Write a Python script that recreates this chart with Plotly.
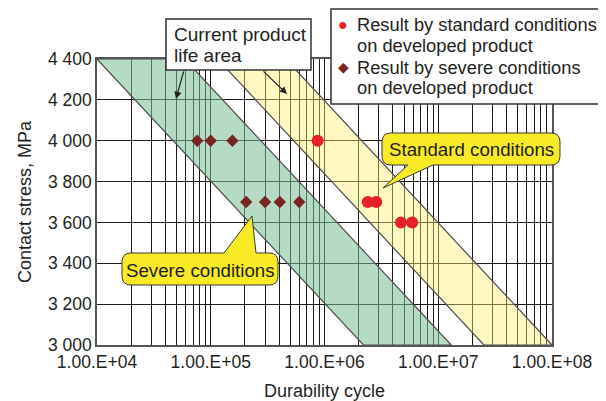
import plotly.graph_objects as go

# ---------------- data ----------------
std_cycles = [8.7e5, 2.4e6, 2.85e6, 4.7e6, 5.9e6]
std_stress = [4000, 3700, 3700, 3600, 3600]

sev_cycles = [7.6e4, 1.0e5, 1.55e5, 2.05e5, 3.0e5, 4.05e5, 6.0e5]
sev_stress = [4000, 4000, 4000, 3700, 3700, 3700, 3700]

band_stress = [4400, 3000]            # stress at top / bottom of the bands
current_lo = [1.0e4, 2.2e6]           # current product life area, short-life edge
current_hi = [5.9e4, 1.3e7]           # current product life area, long-life edge
developed_lo = [1.15e5, 2.52e7]       # developed product band, short-life edge
developed_hi = [4.56e5, 1.0e8]        # developed product band, long-life edge

y_ticks = [3000, 3200, 3400, 3600, 3800, 4000, 4200, 4400]
y_ticktext = ["3 000", "3 200", "3 400", "3 600", "3 800", "4 000", "4 200", "4 400"]
decades = [1e4, 1e5, 1e6, 1e7, 1e8]
decade_text = ["1.00.E+04", "1.00.E+05", "1.00.E+06", "1.00.E+07", "1.00.E+08"]

# x grid at every 1..9 of each decade
x_ticks, x_ticktext = [], []
for d, t in zip(decades, decade_text):
    if d == decades[-1]:
        x_ticks.append(d); x_ticktext.append(t)
        break
    for m in range(1, 10):
        x_ticks.append(d * m)
        x_ticktext.append(t if m == 1 else "")

FONT = "Liberation Sans, Arial, sans-serif"
TXT = "#231f20"

fig = go.Figure()


def band(lo, hi, fill, name):
    xs = [lo[0], hi[0], hi[1], lo[1], lo[0]]
    ys = [band_stress[0], band_stress[0], band_stress[1], band_stress[1], band_stress[0]]
    fig.add_trace(go.Scatter(x=xs, y=ys, mode="lines", fill="toself", fillcolor=fill,
                             line=dict(color="#4d4d4d", width=1.2), name=name,
                             showlegend=False, hoverinfo="skip"))


band(current_lo, current_hi, "rgba(120,190,150,0.55)", "Current product life area")
band(developed_lo, developed_hi, "rgba(255,238,110,0.42)", "Developed product")

fig.add_trace(go.Scatter(x=sev_cycles, y=sev_stress, mode="markers",
                         marker=dict(symbol="diamond", size=9.5, color="#7a2422"),
                         name="Result by severe conditions on developed product",
                         showlegend=False))
fig.add_trace(go.Scatter(x=std_cycles, y=std_stress, mode="markers",
                         marker=dict(symbol="circle", size=12, color="#e8202a"),
                         name="Result by standard conditions on developed product",
                         showlegend=False))

# -------------- layout helpers (screen pixel -> paper) --------------
OFF = 8                       # page body margin of the browser
W, H = 606 - OFF, 401 - OFF
L, R, T, B = 97, 552, 59, 345  # plot area in screen pixels


def px(x, y):
    return (x - L) / (R - L), (B - y) / (B - T)


def path(points_cmds):
    out = []
    for cmd, *pts in points_cmds:
        coords = []
        for (x, y) in pts:
            a, b = px(x, y)
            coords.append(f"{a:.5f},{b:.5f}")
        out.append(cmd + " ".join(coords))
    return " ".join(out) + " Z"


def callout_bottom_tail(x0, x1, y0, y1, r, tb0, tb1, tip):
    return path([
        ("M", (x0 + r, y0)), ("L", (x1 - r, y0)), ("Q", (x1, y0), (x1, y0 + r)),
        ("L", (x1, y1 - r)), ("Q", (x1, y1), (x1 - r, y1)),
        ("L", (tb1, y1)), ("L", tip), ("L", (tb0, y1)),
        ("L", (x0 + r, y1)), ("Q", (x0, y1), (x0, y1 - r)),
        ("L", (x0, y0 + r)), ("Q", (x0, y0), (x0 + r, y0)),
    ])


def callout_top_tail(x0, x1, y0, y1, r, tb0, tb1, tip):
    return path([
        ("M", (x0 + r, y0)), ("L", (tb0, y0)), ("L", tip), ("L", (tb1, y0)),
        ("L", (x1 - r, y0)), ("Q", (x1, y0), (x1, y0 + r)),
        ("L", (x1, y1 - r)), ("Q", (x1, y1), (x1 - r, y1)),
        ("L", (x0 + r, y1)), ("Q", (x0, y1), (x0, y1 - r)),
        ("L", (x0, y0 + r)), ("Q", (x0, y0), (x0 + r, y0)),
    ])


shapes = []
# current product life area box
a0, b0 = px(166, 70); a1, b1 = px(311, 19)
shapes.append(dict(type="rect", xref="paper", yref="paper", x0=a0, y0=b0, x1=a1, y1=b1,
                   fillcolor="white", line=dict(color="#333333", width=1.5), layer="above"))
# legend box
a0, b0 = px(331, 104); a1, b1 = px(605, 9)
shapes.append(dict(type="rect", xref="paper", yref="paper", x0=a0, y0=b0, x1=a1, y1=b1,
                   fillcolor="white", line=dict(color="#333333", width=1.5), layer="above"))
# callouts
shapes.append(dict(type="path", xref="paper", yref="paper",
                   path=callout_bottom_tail(382, 560, 133, 165, 9, 408, 433, (383, 188)),
                   fillcolor="#f8ea24", line=dict(color="#3a3a3a", width=1), layer="above"))
shapes.append(dict(type="path", xref="paper", yref="paper",
                   path=callout_top_tail(122, 278, 253, 285, 9, 224, 256, (252, 216)),
                   fillcolor="#f8ea24", line=dict(color="#3a3a3a", width=1), layer="above"))

ann = []


def text(x, y, s, size, xanchor="left", color=TXT):
    a, b = px(x, y)
    ann.append(dict(xref="paper", yref="paper", x=a, y=b, text=s, showarrow=False,
                    xanchor=xanchor, yanchor="middle", align="left",
                    font=dict(family=FONT, size=size, color=color)))


text(172, 35, "Current product", 19)
text(172, 55, "life area", 19)
text(355, 25, "Result by standard conditions", 18.3)
text(355, 45, "on developed product", 18.3)
text(355, 67, "Result by severe conditions", 18.3)
text(355, 88, "on developed product", 18.3)
text(343, 25, "●", 16, "center", "#e8202a")
text(343, 67, "◆", 14, "center", "#7a2422")
text(471, 149, "Standard conditions", 18.7, "center")
text(200, 270, "Severe conditions", 18.7, "center")

# arrows from the life-area box
for (hx, hy), (tx, ty) in [((176, 99), (184, 70)), ((287, 94), (262, 70))]:
    a, b = px(hx, hy)
    ann.append(dict(xref="paper", yref="paper", x=a, y=b, text="", showarrow=True,
                    ax=tx - hx, ay=ty - hy, arrowhead=2, arrowsize=1.2, arrowwidth=1.2,
                    arrowcolor="#222222", standoff=0))

fig.update_layout(
    width=W, height=H,
    margin=dict(l=L - OFF, r=606 - R, t=T - OFF, b=401 - B, autoexpand=False),
    paper_bgcolor="white", plot_bgcolor="white",
    showlegend=False,
    font=dict(family=FONT, color=TXT),
    shapes=shapes, annotations=ann,
    xaxis=dict(type="log", range=[4, 8], tickmode="array", tickvals=x_ticks,
               ticktext=x_ticktext, showgrid=True, gridcolor="#1a1a1a", gridwidth=1,
               showline=True, linecolor="#555555", linewidth=1.5, mirror=True,
               ticks="", tickfont=dict(family=FONT, size=17.5, color=TXT), automargin=False,
               title=dict(text="Durability cycle", font=dict(family=FONT, size=18, color=TXT),
                          standoff=16),
               zeroline=False),
    yaxis=dict(range=[3000, 4400], tickmode="array", tickvals=y_ticks, ticktext=y_ticktext,
               showgrid=True, gridcolor="#1a1a1a", gridwidth=1,
               showline=True, linecolor="#555555", linewidth=1.5, mirror=True,
               ticks="", tickfont=dict(family=FONT, size=17.5, color=TXT), automargin=False,
               title=dict(text="Contact stress, MPa", font=dict(family=FONT, size=18, color=TXT),
                          standoff=12),
               zeroline=False),
)

fig.write_html("out.html")
